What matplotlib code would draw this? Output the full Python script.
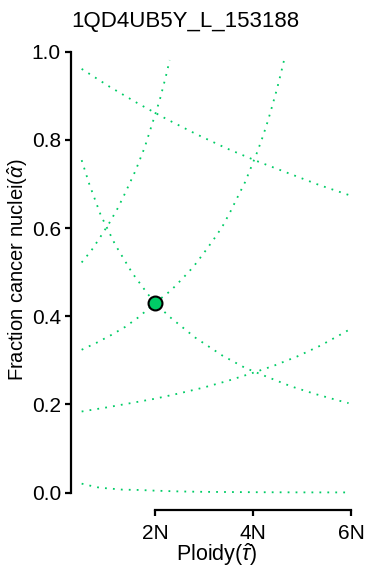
import numpy as np
import matplotlib
matplotlib.use('Agg')
import matplotlib.pyplot as plt

plt.rcParams['font.family'] = ['Liberation Sans', 'DejaVu Sans']
plt.rcParams['mathtext.fontset'] = 'custom'
plt.rcParams['mathtext.rm'] = 'Liberation Sans'
plt.rcParams['mathtext.it'] = 'Liberation Sans:italic'

title = "1QD4UB5Y_L_153188"
curve_color = "#00CC66"

# purity/ploidy curves: (ploidy, fraction)
tau_a = [0.504, 1.067, 1.647, 2.239, 2.843, 3.455, 4.076, 4.708, 5.341, 5.98]
alpha_a = [0.961, 0.921, 0.883, 0.847, 0.813, 0.781, 0.752, 0.725, 0.698, 0.674]

tau_b = [0.504, 0.659, 0.891, 1.190, 1.537, 1.843, 2.0, 2.306, 2.816, 3.373,
         3.837, 4.300, 4.776, 5.259, 5.741, 5.949]
alpha_b = [0.754, 0.700, 0.630, 0.562, 0.498, 0.452, 0.430, 0.398, 0.352, 0.311,
           0.283, 0.262, 0.241, 0.224, 0.209, 0.203]

tau_c = [0.504, 0.708, 0.898, 1.076, 1.245, 1.394, 1.606, 1.790, 1.945, 2.096,
         2.224, 2.30]
alpha_c = [0.522, 0.550, 0.582, 0.613, 0.646, 0.680, 0.731, 0.783, 0.837, 0.890,
           0.945, 0.981]

tau_d = [0.504, 0.810, 1.116, 1.394, 1.667, 2.0, 2.320, 2.557, 2.782, 2.994,
         3.190, 3.373, 3.537, 3.688, 3.837, 3.965, 4.088, 4.204, 4.306, 4.402,
         4.490, 4.571, 4.653]
alpha_d = [0.324, 0.340, 0.358, 0.376, 0.398, 0.430, 0.458, 0.485, 0.512, 0.543,
           0.573, 0.603, 0.637, 0.671, 0.704, 0.739, 0.773, 0.809, 0.844, 0.881,
           0.916, 0.952, 0.990]

tau_e = [0.504, 1.0, 1.504, 2.0, 2.490, 2.980, 3.469, 3.953, 4.429, 4.904,
         5.367, 5.810, 5.953]
alpha_e = [0.184, 0.193, 0.203, 0.213, 0.225, 0.238, 0.253, 0.270, 0.288, 0.309,
           0.333, 0.360, 0.369]

tau_f = [0.504, 0.671, 0.834, 1.0, 1.337, 1.667, 2.0, 2.5, 3.0, 4.0, 5.0, 5.95]
alpha_f = [0.0204, 0.016, 0.012, 0.010, 0.0068, 0.0061, 0.0045, 0.0027, 0.0018,
           0.0010, 0.0006, 0.0005]

# chosen solution
sol_tau = 2.0
sol_alpha = 0.43

xticks = [2, 4, 6]
xticklabels = ["2N", "4N", "6N"]
yticks = [0.0, 0.2, 0.4, 0.6, 0.8, 1.0]

fig = plt.figure(figsize=(3.70, 5.87), dpi=100)
ax = fig.add_axes([0.191, 0.1307, 0.978 - 0.191, 0.942 - 0.1307])

curves = [(tau_a, alpha_a), (tau_b, alpha_b), (tau_c, alpha_c),
          (tau_d, alpha_d), (tau_e, alpha_e), (tau_f, alpha_f)]
for t, a in curves:
    ax.plot(t, a, color=curve_color, lw=1.3, linestyle=(0, (1, 3.4)),
            dash_capstyle='butt')

ax.plot([sol_tau], [sol_alpha], 'o', ms=10, mfc=curve_color, mec='black',
        mew=1.5, zorder=5)

ax.set_xlim(0.28, 6.22)
ax.set_ylim(-0.04, 1.04)
for s in ['top', 'right']:
    ax.spines[s].set_visible(False)
ax.spines['left'].set_bounds(0, 1)
ax.spines['bottom'].set_bounds(2, 6)
ax.spines['left'].set_linewidth(1.6)
ax.spines['bottom'].set_linewidth(1.6)
ax.set_xticks(xticks)
ax.set_xticklabels(xticklabels)
ax.set_yticks(yticks)
ax.set_yticklabels(["%.1f" % v for v in yticks])
ax.tick_params(axis='both', labelsize=15, width=1.6, length=4, pad=3)
ax.tick_params(axis='x', pad=6)

ax.set_xlabel(r"Ploidy($\hat{\tau}$)", fontsize=15.5, labelpad=-1)
fig.text(18 / 370, 1 - 270 / 587, r"Fraction cancer nuclei($\hat{\alpha}$)",
         rotation=90, ha='center', va='center', fontsize=14.5)
fig.text(0.5, 1 - 22 / 587, title, ha='center', va='center', fontsize=16)

fig.savefig("out.png", dpi=100)
